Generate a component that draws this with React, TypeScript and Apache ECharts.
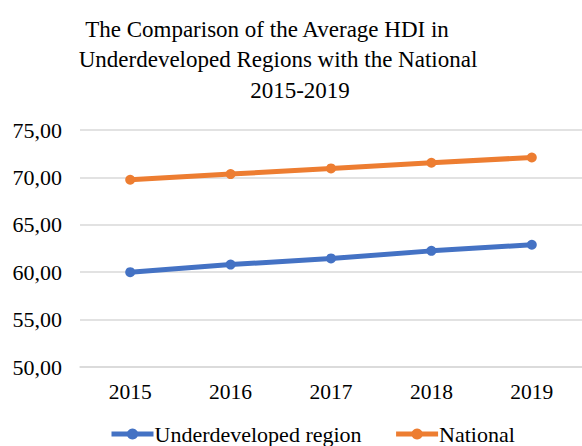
import React, { useEffect, useRef } from "react";
import * as echarts from "echarts";

const years = ["2015", "2016", "2017", "2018", "2019"];
const underdeveloped = [60.0, 60.8, 61.45, 62.25, 62.9];
const national = [69.75, 70.35, 70.95, 71.55, 72.1];
const titleLines = [
  "The Comparison of the Average HDI in",
  "Underdeveloped Regions with the National",
  "2015-2019",
];
const titleCenters = [267, 278, 300];
const titleYs = [29, 59.5, 90];

const FONT = "Liberation Serif";

export default function App() {
  const ref = useRef<HTMLDivElement>(null);
  useEffect(() => {
    if (!ref.current) return;
    const chart = echarts.init(ref.current, null, { renderer: "svg" });
    chart.setOption({
      animation: false,
      backgroundColor: "#fff",
      textStyle: { fontFamily: FONT },
      graphic: titleLines.map((t, i) => ({
        type: "text",
        x: titleCenters[i],
        y: titleYs[i],
        style: {
          text: t,
          fill: "#000",
          fontFamily: FONT,
          fontSize: 23,
          align: "center",
          verticalAlign: "middle",
        },
      })),
      grid: { left: 80, top: 130, width: 512, height: 237 },
      xAxis: {
        type: "category",
        data: years,
        boundaryGap: true,
        axisLine: { show: true, lineStyle: { color: "#D9D9D9", width: 1.5 } },
        axisTick: { show: false },
        axisLabel: { color: "#000", fontFamily: FONT, fontSize: 21.5, margin: 14 },
      },
      yAxis: {
        type: "value",
        min: 50,
        max: 75,
        interval: 5,
        axisLine: { show: false },
        axisTick: { show: false },
        splitLine: { lineStyle: { color: "#D9D9D9", width: 1.5 } },
        axisLabel: {
          color: "#000",
          fontFamily: FONT,
          fontSize: 22,
          margin: 18,
          formatter: (v: number) => v.toFixed(2).replace(".", ","),
        },
      },
      legend: {
        bottom: -4,
        left: 104,
        itemWidth: 42,
        itemHeight: 14,
        itemGap: 32,
        lineStyle: { width: 5 },
        textStyle: { color: "#000", fontFamily: FONT, fontSize: 22, padding: [0, 0, 0, -4] },
        data: ["Underdeveloped region", "National"],
      },
      series: [
        {
          name: "Underdeveloped region",
          type: "line",
          data: underdeveloped,
          symbol: "circle",
          symbolSize: 10,
          lineStyle: { color: "#4472C4", width: 5 },
          itemStyle: { color: "#4472C4" },
        },
        {
          name: "National",
          type: "line",
          data: national,
          symbol: "circle",
          symbolSize: 10,
          lineStyle: { color: "#ED7D31", width: 5 },
          itemStyle: { color: "#ED7D31" },
        },
      ],
    });
    return () => chart.dispose();
  }, []);
  return (
    <div
      ref={ref}
      style={{ position: "fixed", left: 0, top: 0, width: 582, height: 446 }}
    />
  );
}
